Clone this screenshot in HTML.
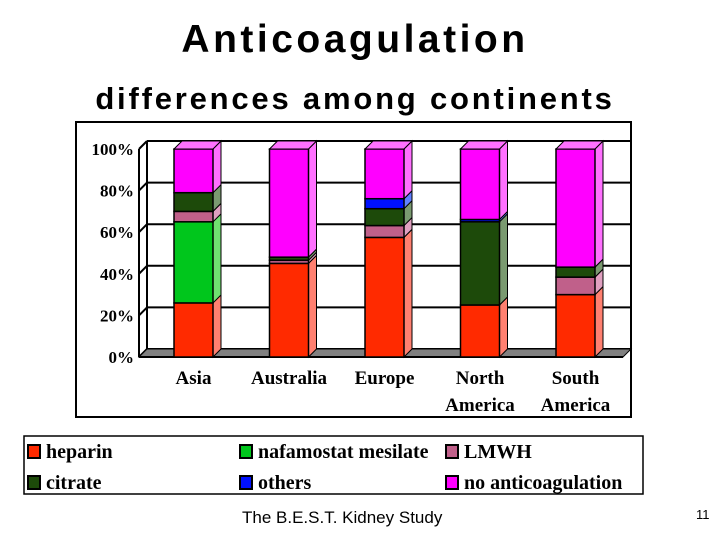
<!DOCTYPE html>
<html><head><meta charset="utf-8"><style>
body{margin:0;background:#fff;width:720px;height:540px;overflow:hidden;position:relative;font-family:"Liberation Sans",sans-serif}
.t{position:absolute;left:0;width:710px;text-align:center;font-weight:bold;color:#000}
</style></head><body>
<div class="t" style="top:18px;font-size:39px;letter-spacing:3.5px">Anticoagulation</div>
<div class="t" style="top:81px;left:0px;font-size:31px;letter-spacing:2.8px">differences among continents</div>
<svg id="c" width="720" height="540" style="position:absolute;left:0;top:0"></svg>
<div style="position:absolute;left:242px;top:508px;font-size:17px">The B.E.S.T. Kidney Study</div>
<div style="position:absolute;left:696px;top:507px;font-size:13px">11</div>
<script>
const categories=[["Asia"],["Australia"],["Europe"],["North","America"],["South","America"]];
const seriesNames=["heparin","nafamostat mesilate","LMWH","citrate","others","no anticoagulation"];
const heparin=[26,45,57.5,25,30];
const nafamostat=[39,0,0,0,0];
const lmwh=[5,1.5,5.7,0,8.4];
const citrate=[9,1.5,8.1,40,4.8];
const others=[0,0,4.8,1.1,0];
const noAnti=[21,52,23.9,33.9,56.8];
const yTicks=[0,20,40,60,80,100];
const colors=["#ff2a00","#00c61c","#c0608a","#1d4a0a","#0010ff","#ff00ff"];
const sides=["#ff8070","#70e070","#e0a0c0","#7a9a70","#6080ff","#ff70ff"];
const NS="http://www.w3.org/2000/svg",svg=document.getElementById("c");
function mk(t,a,p){const e=document.createElementNS(NS,t);for(const k in a)e.setAttribute(k,a[k]);(p||svg).appendChild(e);return e;}
const y0=357,y1=149,dx=8,dy=8;
function Y(v){return y0-(v/100)*(y0-y1);}
function X(i){return 174+i*95.5;}
const bw=39;
let fr=mk("rect",{x:76,y:122,width:555,height:295,fill:"#fff",stroke:"#000","stroke-width":2});


yTicks.forEach(t=>{
 const g=mk("line",{x1:147,y1:Y(t)-dy,x2:631,y2:Y(t)-dy,stroke:"#000","stroke-width":2});
 
 
 mk("line",{x1:139,y1:Y(t),x2:147,y2:Y(t)-dy,stroke:"#000","stroke-width":2});
 const l=mk("text",{x:134,y:Y(t)+6,"text-anchor":"end","font-family":"Liberation Serif,serif","font-weight":"bold","font-size":17});
 l.textContent=t+"%";
 
 
});
mk("line",{x1:147,y1:Y(100)-dy,x2:147,y2:Y(0)-dy,stroke:"#000","stroke-width":2});
mk("line",{x1:139,y1:Y(100),x2:139,y2:Y(0),stroke:"#000","stroke-width":2});
let fl=mk("polygon",{points:`139,${y0} 147,${y0-dy} 631,${y0-dy} 623,${y0}`,fill:"#808080",stroke:"#000"});


mk("line",{x1:139,y1:y0,x2:623,y2:y0,stroke:"#000","stroke-width":2});
const series=[heparin,nafamostat,lmwh,citrate,others,noAnti];
categories.forEach((c,i)=>{
 let cum=0;const x=X(i);
 series.forEach((s,k)=>{
  const v=s[i];if(v<=0)return;
  const ya=Y(cum),yb=Y(cum+v);cum+=v;
  const sd=mk("polygon",{points:`${x+bw},${ya} ${x+bw+dx},${ya-dy} ${x+bw+dx},${yb-dy} ${x+bw},${yb}`,fill:sides[k],stroke:"#000","stroke-width":1});
  
  
  const r=mk("rect",{x:x,y:yb,width:bw,height:ya-yb,fill:colors[k],stroke:"#000","stroke-width":1.5});
  
  
 });
 const top=Y(cum);
 mk("polygon",{points:`${x},${top} ${x+dx},${top-dy} ${x+bw+dx},${top-dy} ${x+bw},${top}`,fill:"#ff70ff",stroke:"#000","stroke-width":1});
 c.forEach((w,j)=>{
  const t=mk("text",{x:x+bw/2,y:384+j*27,"text-anchor":"middle","font-family":"Liberation Serif,serif","font-weight":"bold","font-size":19});
  t.textContent=w;
  
  
 });
});
let lb=mk("rect",{x:24,y:436,width:619,height:58,fill:"#fff",stroke:"#000","stroke-width":1.5});


const lpos=[[28,453],[240,453],[446,453],[28,484],[240,484],[446,484]];
seriesNames.forEach((n,k)=>{
 const [lx,ly]=lpos[k];
 const sw=mk("rect",{x:lx,y:ly-8,width:12,height:13,fill:colors[k],stroke:"#000","stroke-width":2});
 
 
 const t=mk("text",{x:lx+18,y:ly+5,"font-family":"Liberation Serif,serif","font-weight":"bold","font-size":20});
 t.textContent=n;
 
 
});
</script>
</body></html>
